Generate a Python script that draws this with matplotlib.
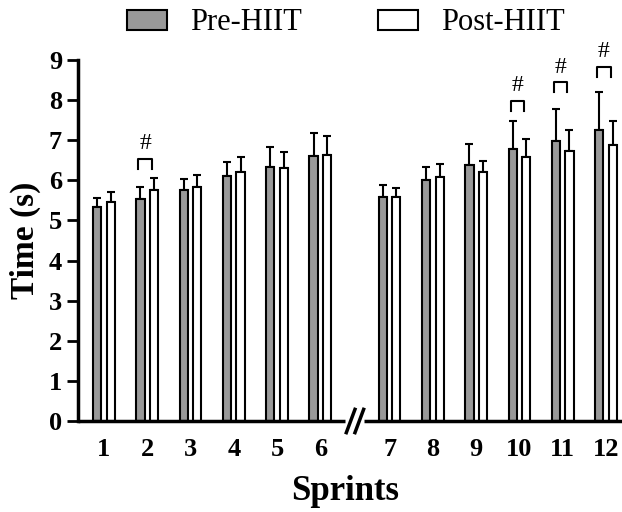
import matplotlib.pyplot as plt
import numpy as np

plt.rcParams['font.family'] = ['Liberation Serif', 'DejaVu Serif']

sprints = ['1', '2', '3', '4', '5', '6', '7', '8', '9', '10', '11', '12']
pre_mean = [5.33, 5.53, 5.76, 6.10, 6.34, 6.60, 5.59, 6.01, 6.37, 6.78, 6.99, 7.26]
pre_sd = [0.23, 0.31, 0.27, 0.35, 0.49, 0.59, 0.30, 0.33, 0.53, 0.70, 0.78, 0.95]
post_mean = [5.47, 5.76, 5.84, 6.20, 6.30, 6.63, 5.58, 6.08, 6.20, 6.57, 6.72, 6.88]
post_sd = [0.25, 0.29, 0.29, 0.38, 0.41, 0.48, 0.24, 0.33, 0.29, 0.45, 0.54, 0.61]
sig_idx = [1, 9, 10, 11]          # sprints 2, 10, 11, 12 marked with '#'
sig_top = [6.53, 7.98, 8.44, 8.82]  # bracket heights

# positions: gap between sprint 6 and 7 (axis break)
x = np.concatenate([np.arange(6), np.arange(6) + 6.6])
off = 0.156
w = 0.19
xbreak = 5.8

fig = plt.figure(figsize=(6.22, 5.12), dpi=100)
ax = fig.add_axes([78/622, 91/512, 1 - 78/622, 361/512])

ax.bar(x - off, pre_mean, w, color='#999999', edgecolor='black', linewidth=1.5, label='Pre-HIIT', zorder=2)
ax.bar(x + off, post_mean, w, color='white', edgecolor='black', linewidth=1.5, label='Post-HIIT', zorder=2)
ax.errorbar(x - off, pre_mean, yerr=[np.zeros(12), pre_sd], fmt='none', ecolor='black',
            elinewidth=1.5, capsize=3, capthick=1.5, zorder=1)
ax.errorbar(x + off, post_mean, yerr=[np.zeros(12), post_sd], fmt='none', ecolor='black',
            elinewidth=1.5, capsize=3, capthick=1.5, zorder=1)

# significance brackets
for i, top in zip(sig_idx, sig_top):
    x0, x1 = x[i] - off - 0.05, x[i] + off - 0.05
    ax.plot([x0, x0, x1, x1], [top - 0.24, top, top, top - 0.24], color='black', lw=1.5, clip_on=False)
    ax.text((x0 + x1) / 2, top + 0.38, '#', ha='center', va='center', fontsize=17, clip_on=False)

ax.set_xlim(-0.6, 11.97)
ax.set_ylim(0, 9)
ax.set_yticks(range(10))
ax.set_xticks(x)
ax.set_xticklabels(sprints)

for s in ['top', 'right', 'bottom']:
    ax.spines[s].set_visible(False)
ax.spines['left'].set_linewidth(2.5)
ax.tick_params(axis='y', length=8, width=2, pad=3.5, labelsize=19)
ax.tick_params(axis='x', length=0, pad=12, labelsize=19)
for t in ax.get_xticklabels() + ax.get_yticklabels():
    t.set_fontweight('bold')

# x axis line with break
ax.plot([-0.6, xbreak - 0.22], [0, 0], color='black', lw=2.5, clip_on=False, solid_capstyle='butt')
ax.plot([xbreak + 0.22, 11.97], [0, 0], color='black', lw=2.5, clip_on=False, solid_capstyle='butt')
for dx in [-0.1, 0.1]:
    ax.plot([xbreak + dx - 0.1, xbreak + dx + 0.1], [-0.29, 0.29], color='black', lw=2.5, clip_on=False)

fig.text(25/622, 1 - 240/512, 'Time (s)', rotation=90, ha='center', va='center', fontsize=24, fontweight='bold')
fig.text(345/622, 1 - 491/512, 'Sprints', ha='center', va='center', fontsize=25, fontweight='bold')

fig.legend(loc='center', bbox_to_anchor=(346/622, 1 - 23/512), ncol=2, frameon=False, fontsize=22,
           handlelength=1.3, handleheight=0.65, handletextpad=0.75, columnspacing=2.5)

fig.savefig('out.png', dpi=100)
